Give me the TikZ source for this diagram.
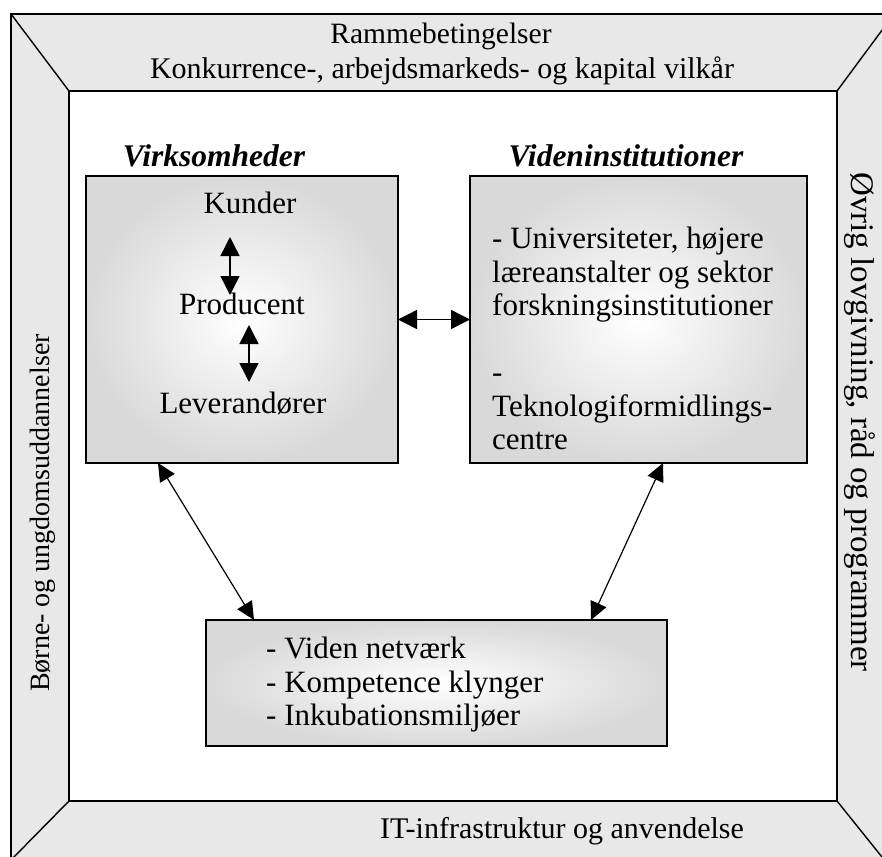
\documentclass[tikz,border=0pt]{standalone}
\usepackage{fontspec}
\setmainfont{Liberation Serif}
\usetikzlibrary{arrows.meta}
\begin{document}
\begin{tikzpicture}[x=1pt,y=-1pt,
  framefill/.style={fill=black!9},
  edge/.style={draw=black,line width=1.4pt},
  panel/.style={draw=black,line width=1.4pt,inner sep=0pt,outer sep=0pt,
    shading=radial,inner color=white,outer color=black!15},
  txt/.style={inner sep=0pt,font=\fontsize{31}{33.5}\selectfont},
  lbl/.style={inner sep=0pt,font=\fontsize{30}{33}\selectfont},
  head/.style={inner sep=0pt,font=\fontsize{31.5}{33}\selectfont\bfseries\itshape},
  link/.style={line width=1.4pt,{Triangle[length=19pt,width=19pt]}-{Triangle[length=19pt,width=19pt]}},
  slim/.style={line width=1.2pt,{Triangle[length=18pt,width=17pt]}-{Triangle[length=18pt,width=17pt]}}]
\useasboundingbox (0,0) rectangle (882,856);
\clip (0,0) rectangle (882,856);

% outer frame with bevelled corners
\path[framefill] (11,14) rectangle (894,866);
\draw[edge] (11,866) -- (11,14) -- (894,14);
\draw[edge,fill=white] (69,91) rectangle (837,801);
\draw[edge] (11,14) -- (69,91);
\draw[edge] (894,14) -- (837,91);
\draw[edge] (11,860) -- (69,801);
\draw[edge] (837,801) -- (886,862);

% frame labels
\node[lbl,anchor=base,font=\fontsize{29.5}{33}\selectfont] (ramme) at (441,44) {Rammebetingelser};
\node[lbl,anchor=base] (vilkaar) at (442,79) {Konkurrence-, arbejdsmarkeds- og kapital vilkår};
\node[lbl,anchor=base] (itinfra) at (562,838) {IT-infrastruktur og anvendelse};
\node[lbl,anchor=base,rotate=90,font=\fontsize{28}{33}\selectfont] (uddannelse) at (49.5,513) {Børne- og ungdomsuddannelser};
\node[lbl,anchor=base,rotate=-90,font=\fontsize{33}{36}\selectfont] (lovgivning) at (851,422) {Øvrig lovgivning, råd og programmer};

% headings
\node[head,anchor=base] (hvirk) at (214,166) {Virksomheder};
\node[head,anchor=base] (hviden) at (626,166) {Videninstitutioner};

% panels
\node[panel,anchor=north west,minimum width=312pt,minimum height=287pt] (lbox) at (86,176) {};
\node[panel,anchor=north west,minimum width=337pt,minimum height=287pt] (rbox) at (470,176) {};
\node[panel,anchor=north west,minimum width=461pt,minimum height=126pt] (bbox) at (206,620) {};

% firm chain
\node[txt,anchor=base] (kunder) at (250,213) {Kunder};
\node[txt,anchor=base] (producent) at (242,314.5) {Producent};
\node[txt,anchor=base] (leverandor) at (243,413) {Leverandører};
\coordinate (k1) at (230,237);
\coordinate (k2) at (230,295);
\coordinate (p1) at (249,325);
\coordinate (p2) at (249,382);
\draw[link] (k1) -- (k2);
\draw[link] (p1) -- (p2);

% knowledge institutions
\node[txt,anchor=north west,align=left] (inst) at (492,227)
  {- Universiteter, højere\\ læreanstalter og sektor\\ forskningsinstitutioner\\[33.5pt]
   -\\ Teknologiformidlings-\\ centre};

% networks
\node[txt,anchor=north west,align=left] (net) at (266,637)
  {- Viden netværk\\ - Kompetence klynger\\ - Inkubationsmiljøer};

% connectors between panels
\draw[link] (lbox.east) -- (rbox.west);
\draw[slim] ([xshift=72pt]lbox.south west) -- ([xshift=48pt]bbox.north west);
\draw[slim] ([xshift=-144pt]rbox.south east) -- ([xshift=-76pt]bbox.north east);
\end{tikzpicture}
\end{document}
